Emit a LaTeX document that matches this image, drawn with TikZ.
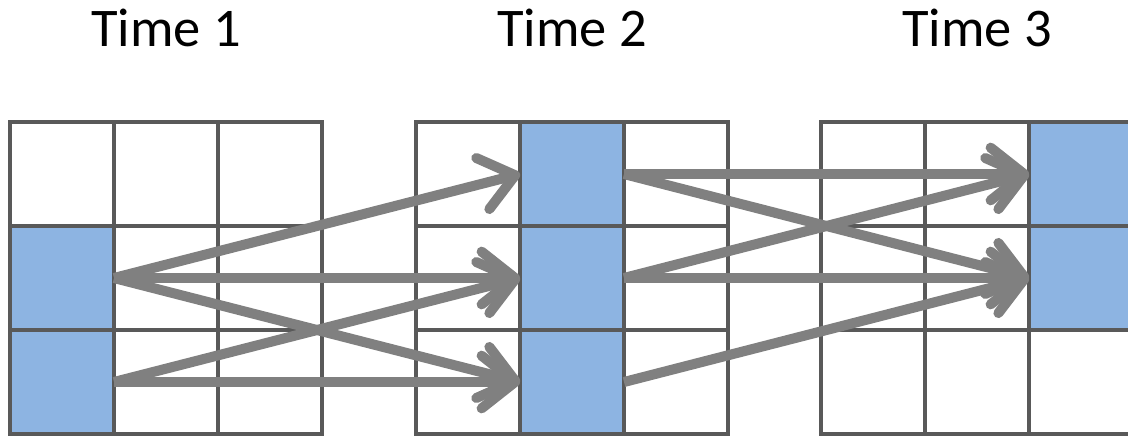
\documentclass[tikz,border=0pt]{standalone}
\usepackage{fontspec}
\setmainfont{Carlito}
\usetikzlibrary{arrows.meta,positioning}
\definecolor{gridgray}{HTML}{595959}
\definecolor{cellblue}{HTML}{8DB4E2}
\definecolor{linkgray}{HTML}{808080}
\tikzstyle{cell} = [draw=gridgray, fill=white, line width=2.3pt,
    rectangle, minimum width=2.08cm, minimum height=2.08cm, inner sep=0, outer sep=0]
\tikzstyle{active} = [cell, fill=cellblue]
\tikzstyle{timelabel} = [font=\fontsize{31}{36}\selectfont, inner sep=0]
\tikzstyle{link} = [draw=linkgray, line width=5.7pt,
    -{Straight Barb[length=19pt, width=30pt, round]}]

\begin{document}
\begin{tikzpicture}[x=0.02cm, y=-0.02cm]
    \clip (0,0) rectangle (1128,437);
    \fill[white] (0,0) rectangle (1128,437);
    % three 3x3 grids
    \foreach \g/\gx in {1/10, 2/416, 3/821}
        \foreach \r in {1,2,3}
            \foreach \c in {1,2,3}
                \node[cell] (t\g-\r-\c) at (\gx+104*\c-52, 70+104*\r) {};
    \foreach \n in {t1-2-1, t1-3-1, t2-1-2, t2-2-2, t2-3-2, t3-1-3, t3-2-3}
        \node[active] (b\n) at (\n) {};
    \node[timelabel, above=1.52cm of t1-1-2.north, anchor=base] (time1) {Time 1};
    \node[timelabel, above=1.52cm of t2-1-2.north, anchor=base] (time2) {Time 2};
    \node[timelabel, above=1.52cm of t3-1-2.north, anchor=base] (time3) {Time 3};
    % transitions
    \foreach \a/\b in {t1-2-1/t2-1-2, t1-2-1/t2-2-2, t1-2-1/t2-3-2,
                       t1-3-1/t2-2-2, t1-3-1/t2-3-2,
                       t2-1-2/t3-1-3, t2-1-2/t3-2-3, t2-2-2/t3-1-3,
                       t2-2-2/t3-2-3, t2-3-2/t3-2-3}
        \draw[link] (\a.east) -- (\b.west);
\end{tikzpicture}
\end{document}
